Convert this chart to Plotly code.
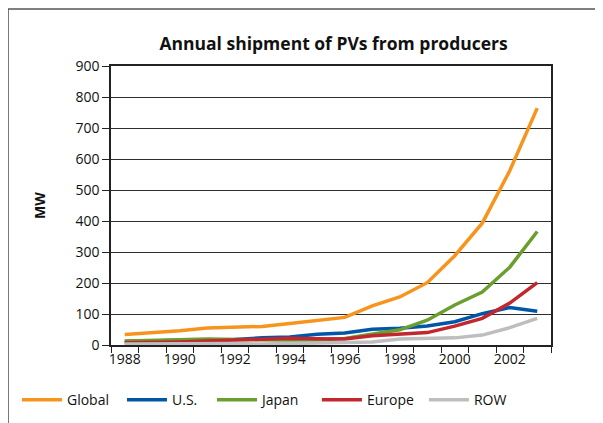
import plotly.graph_objects as go

years = list(range(1988, 2004))
global_mw = [34, 40, 46, 55, 58, 60, 69, 78, 89, 126, 155, 201, 288, 393, 562, 764]
us_mw = [11, 14, 15, 17, 18, 23, 26, 35, 39, 51, 54, 61, 75, 101, 121, 109]
japan_mw = [13, 14, 17, 19, 19, 17, 16, 16, 21, 35, 49, 80, 129, 171, 251, 366]
europe_mw = [7, 8, 10, 13, 16, 17, 22, 20, 19, 30, 34, 40, 61, 86, 135, 201]
row_mw = [3, 4, 5, 6, 5, 3, 5, 7, 10, 10, 19, 21, 23, 32, 56, 86]
series_names = ["Global", "U.S.", "Japan", "Europe", "ROW"]
series_vals = [global_mw, us_mw, japan_mw, europe_mw, row_mw]
colors = ["#F7941D", "#0057A8", "#6A9E2E", "#C1272D", "#BEBEC0"]
x_tick_labels = [str(y) for y in range(1988, 2004, 2)]
legend_x = [-0.2137, 0.025, 0.2295, 0.468, 0.7113]

FONT = "Open Sans"
fig = go.Figure()
legend_ids = ["legend", "legend2", "legend3", "legend4", "legend5"]
for name, vals, c, lid in zip(series_names, series_vals, colors, legend_ids):
    fig.add_trace(go.Scatter(x=years, y=vals, mode="lines", name=name,
                             line=dict(color=c, width=3.5), legend=lid))

legends = {}
for lid, lx in zip(legend_ids, legend_x):
    legends[lid] = dict(orientation="h", x=lx, xanchor="left", y=-0.14, yanchor="top",
                        font=dict(family=FONT, size=14, color="#111"), itemwidth=40,
                        bgcolor="rgba(0,0,0,0)")

fig.update_layout(
    template="none",
    width=603, height=423,
    margin=dict(l=103, r=60, t=58, b=86, autoexpand=False),
    paper_bgcolor="white", plot_bgcolor="white",
    font=dict(family=FONT, size=14, color="#111"),
    title=dict(text="<b>Annual shipment of PVs from producers</b>",
               x=0.54, xanchor="center", y=0.915, yanchor="middle",
               font=dict(family=FONT, size=17.5, color="#111")),
    showlegend=True,
    xaxis=dict(range=[1987.5, 2003.5], tickvals=list(range(1988, 2004, 2)),
               ticktext=x_tick_labels, ticks="", showgrid=False, automargin=False,
               showline=True, linecolor="#222", linewidth=1.5, mirror=True,
               minor=dict(tick0=1987.5, dtick=1, ticks="outside", ticklen=6,
                          tickcolor="#222", showgrid=False),
               zeroline=False, tickfont=dict(size=14)),
    yaxis=dict(range=[0, 900], dtick=100, ticks="outside", ticklen=7,
               tickcolor="#222", showgrid=True, gridcolor="#2e2e2e", gridwidth=1.2,
               showline=True, linecolor="#222", linewidth=1.5, mirror=True,
               zeroline=False, tickfont=dict(size=14), automargin=False,
               title=dict(text="<b>MW</b>", font=dict(size=14), standoff=27)),
    shapes=[dict(type="rect", xref="paper", yref="paper",
                 x0=-0.234, x1=1.111, y0=-0.30, y1=1.204,
                 line=dict(color="#555", width=1.5), fillcolor="rgba(0,0,0,0)")],
    **legends,
)
fig.write_html("out.html")
